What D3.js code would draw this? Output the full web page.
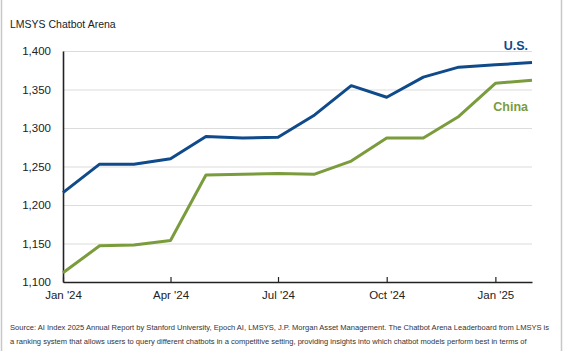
<!DOCTYPE html>
<html>
<head>
<meta charset="utf-8">
<script src="https://cdn.jsdelivr.net/npm/d3@7"></script>
<style>
  html,body{margin:0;padding:0;background:#fff;}
  svg{display:block;font-family:"Liberation Sans",Arial,sans-serif;}
</style>
</head>
<body>
<div id="chart"></div>
<script>
// LMSYS Chatbot Arena: top model score, U.S. vs China
const months = ['2024-01','2024-02','2024-03','2024-04','2024-05','2024-06','2024-07',
                '2024-08','2024-09','2024-10','2024-11','2024-12','2025-01','2025-02'];
const usScores    = [1216,1253,1253,1260,1289,1287,1288,1317,1355,1340,1366,1379,1382,1385];
const chinaScores = [1112,1147,1148,1154,1239,1240,1241,1240,1257,1287,1287,1315,1358,1362];
const yTicks = [1100,1150,1200,1250,1300,1350,1400];
const xTicks = ['2024-01','2024-04','2024-07','2024-10','2025-01'];
const xTickLabels = ["Jan '24","Apr '24","Jul '24","Oct '24","Jan '25"];
const footLines = [
  'Source: AI Index 2025 Annual Report by Stanford University, Epoch AI, LMSYS, J.P. Morgan Asset Management. The Chatbot Arena Leaderboard from LMSYS is',
  'a ranking system that allows users to query different chatbots in a competitive setting, providing insights into which chatbot models perform best in terms of'
];

(function(){
  const W = 564, H = 351;
  const m = {top:51,right:32,bottom:69,left:63};
  const w = W-m.left-m.right, h = H-m.top-m.bottom;
  const parse = d3.timeParse('%Y-%m');

  const svg = d3.select('#chart').append('svg').attr('width',W).attr('height',H);

  // frame edges
  svg.append('line').attr('x1',1.5).attr('x2',1.5).attr('y1',0).attr('y2',H).attr('stroke','#c8c8c8').attr('stroke-width',1.5);
  svg.append('line').attr('x1',561.5).attr('x2',561.5).attr('y1',0).attr('y2',H).attr('stroke','#c8c8c8').attr('stroke-width',1.5);

  svg.append('text').attr('x',10).attr('y',28)
    .style('font-size','10.5px').style('fill','#222').text('LMSYS Chatbot Arena');

  const g = svg.append('g').attr('transform',`translate(${m.left},${m.top})`);

  const xSc = d3.scaleTime().domain(d3.extent(months,parse)).range([0,w]);
  const ySc = d3.scaleLinear().domain([1100,1400]).range([h,0]);

  // Grid
  g.append('g').call(d3.axisLeft(ySc).tickValues(yTicks).tickSize(-w).tickFormat(''))
    .call(g=>g.select('.domain').remove())
    .call(g=>g.selectAll('line').style('stroke','#dcdcdc').style('stroke-width','1.2'));

  // Y axis
  const ya = g.append('g').call(d3.axisLeft(ySc).tickValues(yTicks).tickSize(0).tickPadding(12).tickFormat(d3.format(',')));
  ya.select('.domain').attr('stroke','#222').attr('stroke-width',1.6);
  ya.selectAll('text').style('font-size','11.5px').style('fill','#222').style('font-family','"Liberation Sans",Arial,sans-serif');

  // X axis, ticks pointing inward
  const xa = g.append('g').attr('transform',`translate(0,${h})`)
    .call(d3.axisBottom(xSc).tickValues(xTicks.map(parse)).tickSizeInner(-5).tickSizeOuter(0).tickPadding(9)
      .tickFormat((d,i)=>xTickLabels[i]));
  xa.select('.domain').attr('stroke','#222').attr('stroke-width',1.6);
  xa.selectAll('line').attr('stroke','#222').attr('stroke-width',1.2);
  xa.selectAll('text').style('font-size','11.5px').style('fill','#222').style('font-family','"Liberation Sans",Arial,sans-serif');

  const lineGen = d3.line().x((d,i)=>xSc(parse(months[i]))).y(d=>ySc(d));

  const series = [
    {vals:chinaScores, color:'#7a9c3c', label:'China', ly:1322},
    {vals:usScores,    color:'#0f4a8a', label:'U.S.',  ly:1401}
  ];
  series.forEach(s=>{
    g.append('path').datum(s.vals).attr('fill','none').attr('stroke',s.color)
      .attr('stroke-width',3).attr('stroke-linejoin','round').attr('d',lineGen);
  });
  series.forEach(s=>{
    g.append('text').attr('x',w-4).attr('y',ySc(s.ly)).attr('text-anchor','end')
      .style('font-size','12.5px').style('font-weight','700').style('fill',s.color).text(s.label);
  });

  // footnote
  footLines.forEach((t,i)=>{
    svg.append('text').attr('x',10).attr('y',330+i*14)
      .style('font-size','7.55px').style('fill','#333').text(t);
  });
})();
</script>
</body>
</html>
